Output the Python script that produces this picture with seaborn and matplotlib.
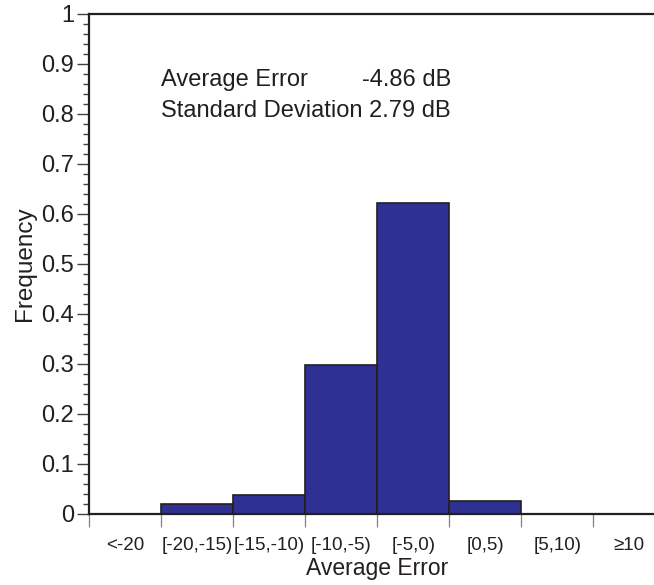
import matplotlib
matplotlib.use("Agg")
import matplotlib.pyplot as plt
import seaborn as sns
import pandas as pd
import numpy as np
from matplotlib.ticker import FixedLocator, FuncFormatter, MultipleLocator

categories = ["<-20", "[-20,-15)", "[-15,-10)", "[-10,-5)", "[-5,0)", "[0,5)", "[5,10)", "\u226510"]
frequency = [0.0, 0.019, 0.037, 0.297, 0.621, 0.026, 0.0, 0.0]
stats_labels = ["Average Error", "Standard Deviation"]
stats_values = ["-4.86 dB", "2.79 dB"]

sns.set_style("white")
plt.rcParams["font.family"] = ["Liberation Sans", "DejaVu Sans"]

df = pd.DataFrame({"cat": categories, "freq": frequency})

fig = plt.figure(figsize=(6.54, 5.85), dpi=100)
ax = fig.add_axes([0.1365, 0.1219, 0.8807, 0.8542])

sns.barplot(data=df, x="cat", y="freq", order=categories, color="#2E3192",
            saturation=1, width=1.0, edgecolor="#231F20", linewidth=1.2, ax=ax)

ax.set_xlim(-0.5, len(categories) - 0.5)
ax.set_ylim(0, 1)

for s in ["left", "top", "bottom", "right"]:
    ax.spines[s].set_color("#231F20")
    ax.spines[s].set_linewidth(1.6)
ax.spines["right"].set_visible(False)

# x: labels centered, ticks at bin boundaries
ax.set_xticks(range(len(categories)))
ax.set_xticklabels(categories)
ax.xaxis.set_minor_locator(FixedLocator(np.arange(-0.5, len(categories), 1.0)))
ax.tick_params(axis="x", which="major", length=0, pad=17, labelsize=13.5, colors="#231F20")
ax.tick_params(axis="x", which="minor", bottom=True, direction="out", length=9.5,
               width=0.9, color="#808285")

# y ticks
ax.yaxis.set_major_locator(MultipleLocator(0.1))
ax.yaxis.set_minor_locator(MultipleLocator(0.02))
ax.yaxis.set_major_formatter(FuncFormatter(lambda v, p: "%g" % round(v, 2)))
ax.tick_params(axis="y", which="major", left=True, direction="out", length=9,
               width=1.0, color="#414042", pad=2, labelsize=17, labelcolor="#231F20")
ax.tick_params(axis="y", which="minor", left=True, direction="out", length=4.5,
               width=1.0, color="#414042")

ax.set_xlabel("Average Error", fontsize=16.5, color="#231F20", labelpad=2)
ax.set_ylabel("Frequency", fontsize=17.5, color="#231F20", labelpad=4)

# statistics text
x_left, x_right = 0.492, 4.533
ax.text(x_left, 0.856, stats_labels[0], fontsize=17, color="#231F20", ha="left", va="baseline")
ax.text(x_right, 0.856, stats_values[0], fontsize=17, color="#231F20", ha="right", va="baseline")
ax.text(x_left, 0.794, stats_labels[1] + " " + stats_values[1], fontsize=17,
        color="#231F20", ha="left", va="baseline")

fig.savefig("out.png", dpi=100)
